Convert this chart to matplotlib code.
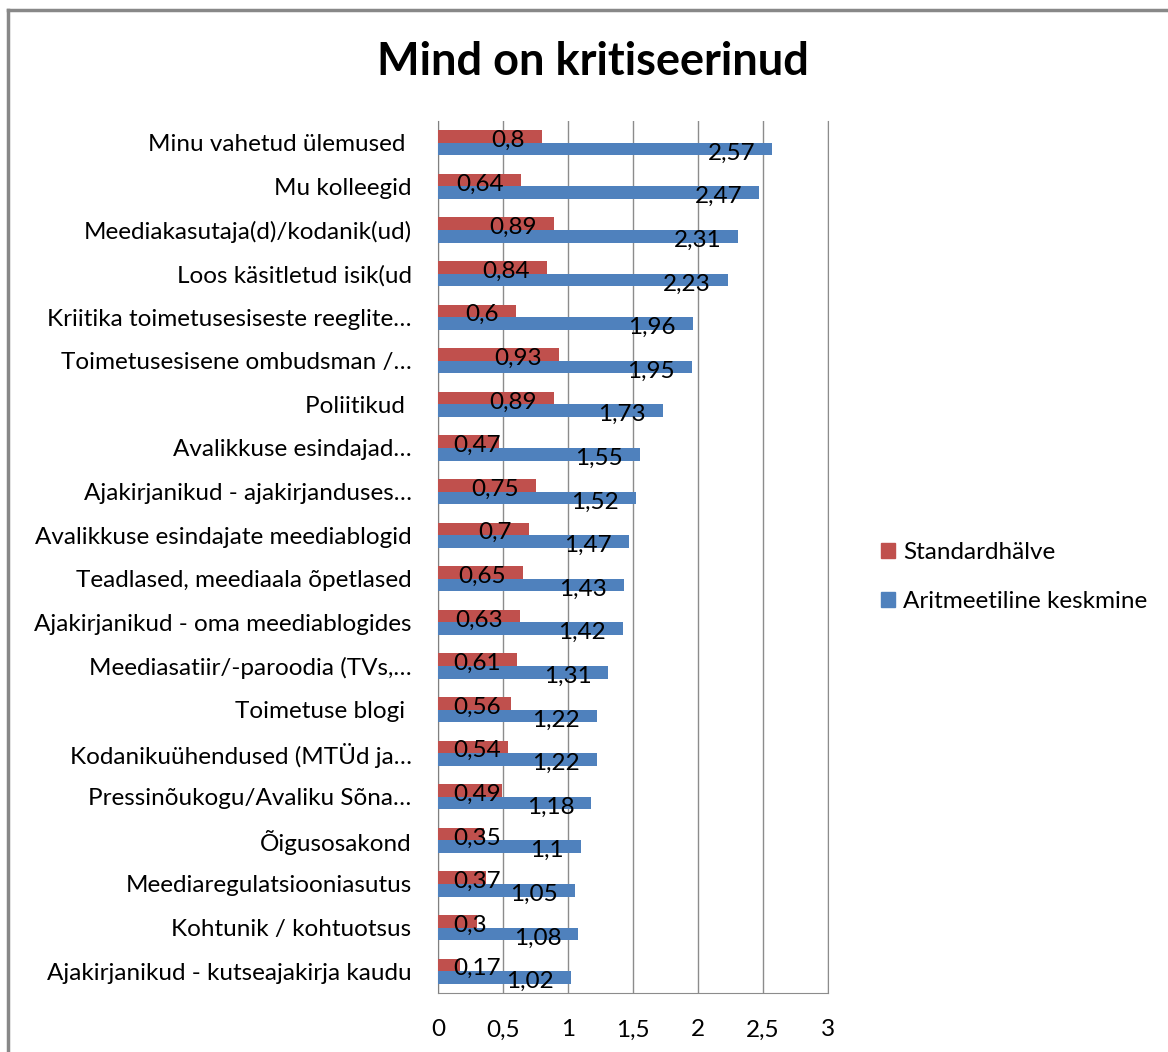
import numpy as np
import matplotlib
matplotlib.use("Agg")
import matplotlib.pyplot as plt
from matplotlib.lines import Line2D
from matplotlib.patches import Patch

categories = [
    "Minu vahetud ülemused ",
    "Mu kolleegid",
    "Meediakasutaja(d)/kodanik(ud)",
    "Loos käsitletud isik(ud",
    "Kriitika toimetusesiseste reeglite…",
    "Toimetusesisene ombudsman /…",
    "Poliitikud ",
    "Avalikkuse esindajad…",
    "Ajakirjanikud - ajakirjanduses…",
    "Avalikkuse esindajate meediablogid",
    "Teadlased, meediaala õpetlased",
    "Ajakirjanikud - oma meediablogides",
    "Meediasatiir/-paroodia (TVs,…",
    "Toimetuse blogi ",
    "Kodanikuühendused (MTÜd ja…",
    "Pressinõukogu/Avaliku Sõna…",
    "Õigusosakond",
    "Meediaregulatsiooniasutus",
    "Kohtunik / kohtuotsus",
    "Ajakirjanikud - kutseajakirja kaudu",
]
std_dev = [0.8, 0.64, 0.89, 0.84, 0.6, 0.93, 0.89, 0.47, 0.75, 0.7,
           0.65, 0.63, 0.61, 0.56, 0.54, 0.49, 0.35, 0.37, 0.3, 0.17]
mean = [2.57, 2.47, 2.31, 2.23, 1.96, 1.95, 1.73, 1.55, 1.52, 1.47,
        1.43, 1.42, 1.31, 1.22, 1.22, 1.18, 1.1, 1.05, 1.08, 1.02]
xticks = [0, 0.5, 1, 1.5, 2, 2.5, 3]

red = "#C0504D"
blue = "#4F81BD"
font = ["Lato", "DejaVu Sans"]
plt.rcParams["font.family"] = font
fs = 17.5

fig = plt.figure(figsize=(11.68, 10.52), dpi=100)
ax = fig.add_axes([438 / 1168, 1 - 993 / 1052, 390 / 1168, 872 / 1052])

y = np.arange(len(categories))
h = 0.29
ax.barh(y - h / 2, std_dev, height=h, color=red, zorder=3)
ax.barh(y + h / 2, mean, height=h, color=blue, zorder=3)

ax.set_xlim(0, 3)
ax.set_ylim(len(categories) - 0.5, -0.5)
ax.set_xticks(xticks)
ax.set_xticklabels([str(t).replace(".", ",") if t % 1 else str(int(t)) for t in xticks])
ax.set_yticks(y)
ax.set_yticklabels(categories)
ax.tick_params(axis="both", length=0, labelsize=fs, colors="black")
ax.tick_params(axis="y", pad=19)
ax.tick_params(axis="x", pad=19)
ax.grid(axis="x", color="#8c8c8c", linewidth=1, zorder=0)
ax.spines["top"].set_visible(False)
for s in ["left", "bottom", "right"]:
    ax.spines[s].set_color("#8c8c8c")
ax.spines["left"].set_color("#808080")

def fmt(v):
    return ("%g" % v).replace(".", ",")

# data labels, right aligned a bit inside the bar end; short bars pushed right
fig.canvas.draw()
renderer = fig.canvas.get_renderer()
x0 = ax.transData.transform((0, 0))[0]
for vals, off in [(std_dev, -h / 2), (mean, h / 2)]:
    for i, v in enumerate(vals):
        t = ax.text(v, i + off + 0.09, fmt(v), fontsize=fs, ha="right", va="center", zorder=4)
        t.set_transform(ax.transData + matplotlib.transforms.ScaledTranslation(-17 / 100, 0, fig.dpi_scale_trans))
        bb = t.get_window_extent(renderer)
        if bb.x0 - x0 < 15:
            t.set_x(0)
            t.set_ha("left")
            t.set_transform(ax.transData + matplotlib.transforms.ScaledTranslation(15 / 100, 0, fig.dpi_scale_trans))

fig.text(593 / 1168, 1 - 62 / 1052, "Mind on kritiseerinud", fontsize=32.5, fontweight="bold",
         ha="center", va="center")

handles = [Patch(color=red, label="Standardhälve"), Patch(color=blue, label="Aritmeetiline keskmine")]
fig.legend(handles=handles, loc="center left", bbox_to_anchor=(859 / 1168, 1 - 577 / 1052),
           frameon=False, fontsize=fs, handlelength=0.6, handleheight=0.6, handletextpad=0.3,
           labelspacing=1.15)

# outer chart border
fig.add_artist(Line2D([8 / 1168, 8 / 1168], [0, 1 - 10 / 1052], color="#888888", linewidth=2.5))
fig.add_artist(Line2D([8 / 1168, 1], [1 - 10 / 1052, 1 - 10 / 1052], color="#888888", linewidth=2.5))

fig.savefig("out.png", dpi=100)
